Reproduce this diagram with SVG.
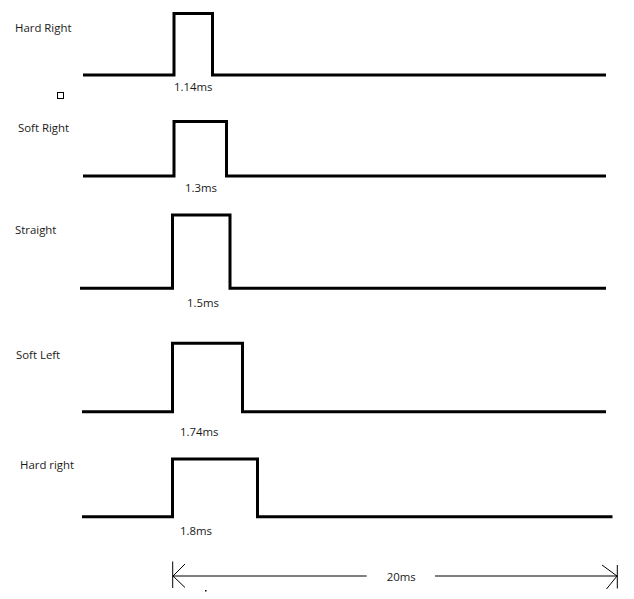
<svg xmlns="http://www.w3.org/2000/svg" width="634" height="599" viewBox="0 0 634 599">
<style>
.sig{fill:none;stroke:#000;stroke-width:3;stroke-linejoin:miter;stroke-linecap:butt}
.lbl{font-family:"Open Sans","DejaVu Sans",sans-serif;font-size:11.4px;fill:#1a1a1a}
.dim{fill:none;stroke:#000;stroke-width:1}
</style>
<rect width="634" height="599" fill="#fff"/>
<g id="hard-right">
<path class="sig" d="M83,75 H174 V13.5 H212.5 V75 H606"/>
<text class="lbl" x="15" y="32">Hard Right</text>
<text class="lbl" x="174" y="91">1.14ms</text>
</g>
<rect id="small-square" x="57.5" y="92.5" width="6" height="6" fill="none" stroke="#000" stroke-width="1"/>
<g id="soft-right">
<path class="sig" d="M83,176 H174 V121.5 H226.5 V176 H606"/>
<text class="lbl" x="18" y="132">Soft Right</text>
<text class="lbl" x="185" y="192">1.3ms</text>
</g>
<g id="straight">
<path class="sig" d="M80,288.3 H172.5 V215 H230 V288.3 H606"/>
<text class="lbl" x="15" y="234">Straight</text>
<text class="lbl" x="187" y="307">1.5ms</text>
</g>
<g id="soft-left">
<path class="sig" d="M82,411.7 H172.5 V343.3 H242.5 V411.7 H606"/>
<text class="lbl" x="16" y="359">Soft Left</text>
<text class="lbl" x="180" y="436">1.74ms</text>
</g>
<g id="hard-right-2">
<path class="sig" d="M82,516.7 H172.5 V459 H257.5 V516.7 H612.5"/>
<text class="lbl" x="20" y="469">Hard right</text>
<text class="lbl" x="180" y="535">1.8ms</text>
</g>
<g id="connectors">
<line class="dim" x1="172.7" y1="561.5" x2="172.7" y2="588"/>
<line class="dim" x1="617.3" y1="565" x2="617.3" y2="588.5"/>
<line class="dim" x1="172.7" y1="576" x2="366.7" y2="576"/>
<line class="dim" x1="435" y1="576" x2="617.3" y2="576"/>
<path class="dim" d="M185,564 L173,576 L185,587.5"/>
<path class="dim" d="M602,565 L617,576 L606.5,589"/>
<rect x="205" y="590" width="1.5" height="1.5" fill="#000"/>
<text class="lbl" x="386.7" y="580.7">20ms</text>
</g>
</svg>
